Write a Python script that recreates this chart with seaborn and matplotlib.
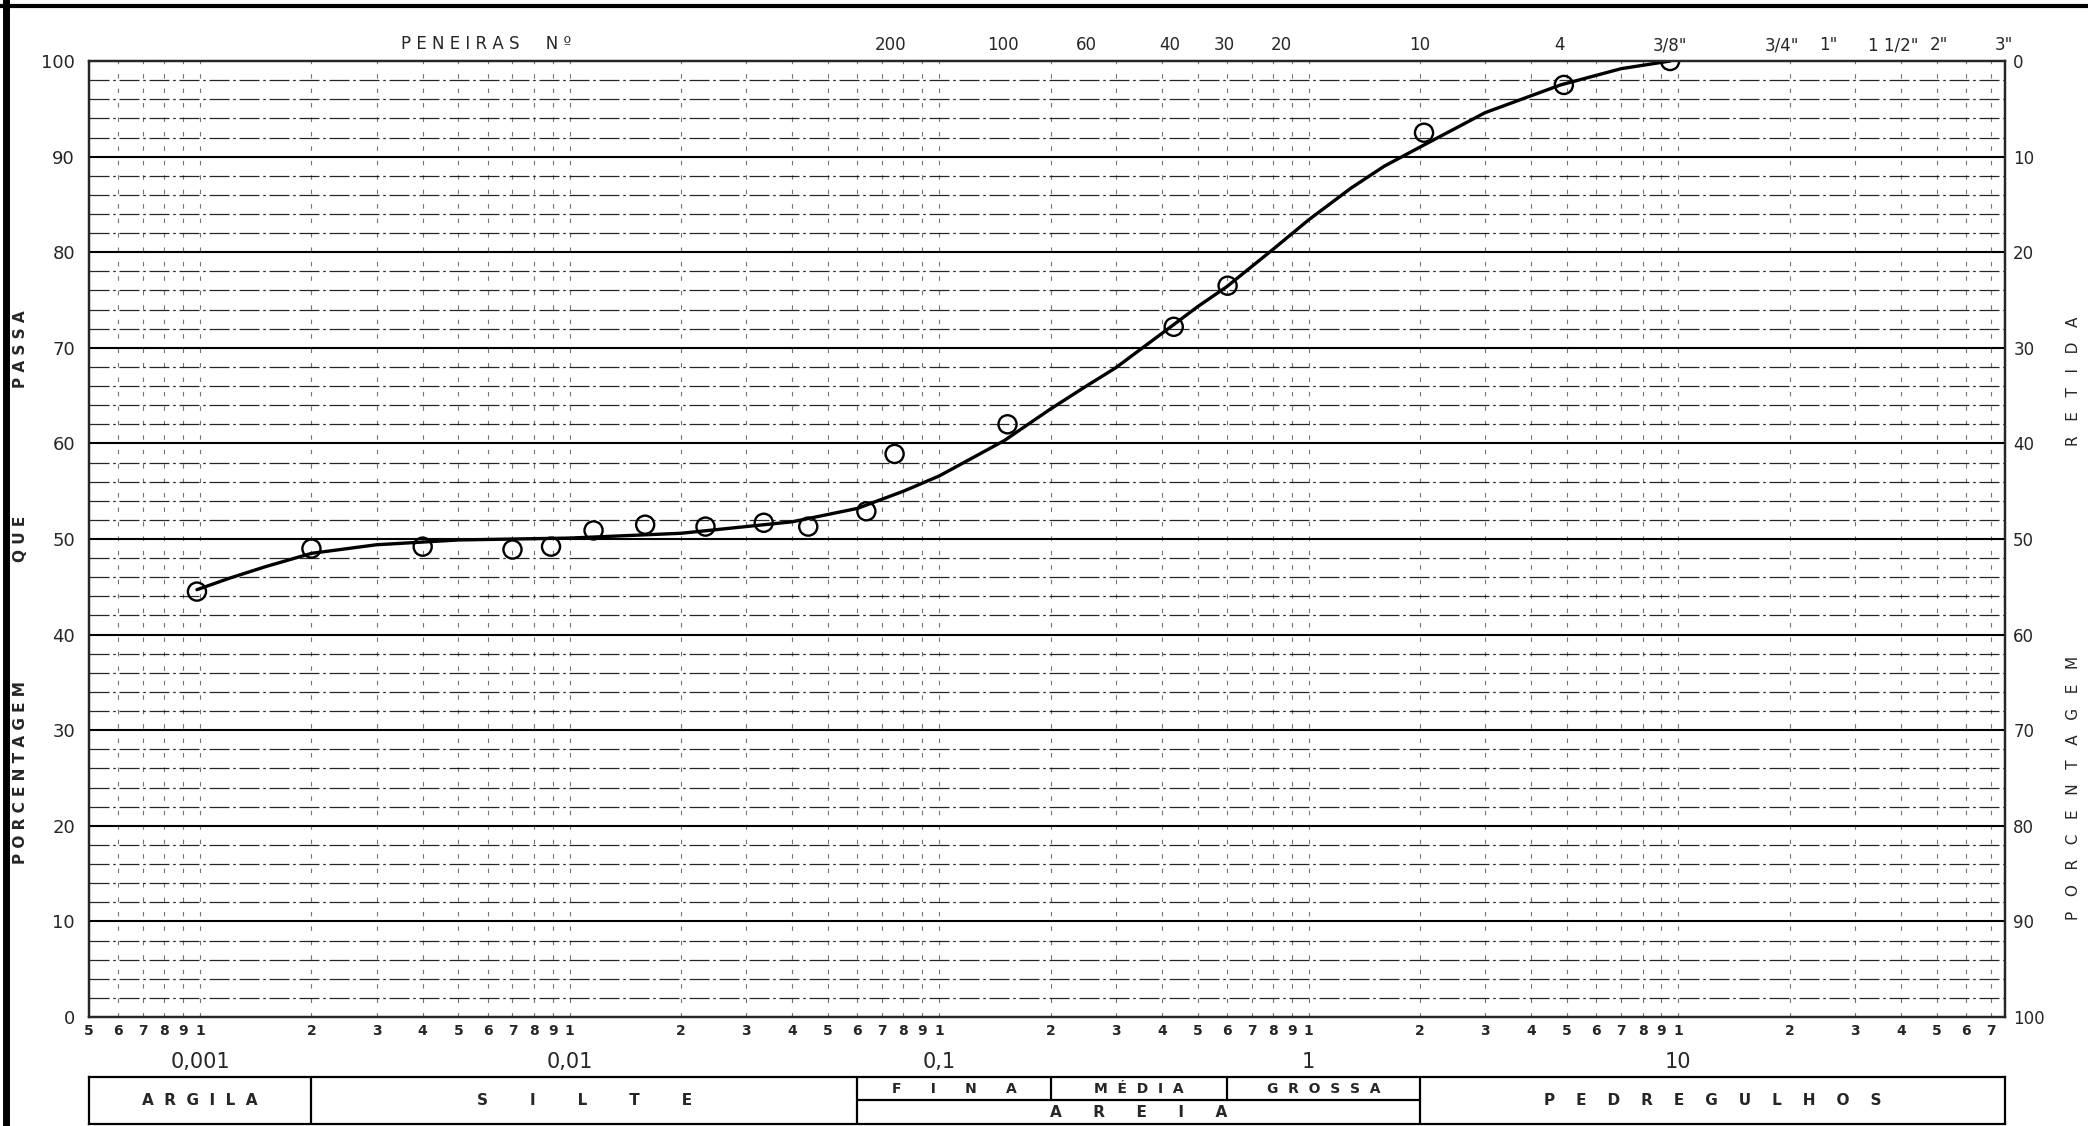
import matplotlib
matplotlib.use("Agg")
import matplotlib.pyplot as plt
import matplotlib.transforms as mtransforms
from matplotlib.lines import Line2D
from matplotlib.ticker import NullLocator
import seaborn as sns
import pandas as pd

sns.set_theme(style="white")
plt.rcParams["font.family"] = ["DejaVu Sans"]

# pontos do ensaio (diametro em mm, % que passa)
diametros = [0.00098, 0.0020, 0.0040, 0.0070, 0.0089, 0.0116, 0.0160, 0.0233, 0.0335,
             0.0442, 0.0635, 0.0757, 0.153, 0.431, 0.603, 2.05, 4.9, 9.5]
passa = [44.5, 49.0, 49.2, 48.9, 49.2, 50.9, 51.5, 51.3, 51.7,
         51.3, 52.9, 58.9, 62.0, 72.2, 76.5, 92.5, 97.5, 100.0]

# curva desenhada a mao
curva_d = [0.00098, 0.0012, 0.0015, 0.002, 0.003, 0.005, 0.01, 0.02, 0.04, 0.06, 0.08,
           0.1, 0.15, 0.2, 0.25, 0.3, 0.43, 0.5, 0.6, 0.8, 1.0, 1.3, 1.6, 2.0,
           3.0, 4.8, 7.0, 9.5]
curva_p = [44.7, 45.9, 47.1, 48.5, 49.4, 49.9, 50.1, 50.6, 51.8, 53.2, 55.0,
           56.6, 60.3, 63.6, 66.0, 67.9, 72.4, 74.3, 76.4, 80.3, 83.4, 86.7, 89.0, 91.0,
           94.6, 97.5, 99.2, 100.0]

peneiras_nome = ["200", "100", "60", "40", "30", "20", "10", "4",
                 '3/8"', '3/4"', '1"', '1 1/2"', '2"', '3"']
peneiras_mm = [0.074, 0.149, 0.25, 0.42, 0.59, 0.84, 2.0, 4.76,
               9.5, 19.1, 25.4, 38.1, 50.8, 76.2]

decadas = [0.001, 0.01, 0.1, 1, 10]
decadas_nome = ["0,001", "0,01", "0,1", "1", "10"]

# classificacao (limites em mm)
limites = [0.002, 0.06, 2.0]
limites_areia = [0.2, 0.6]
classes = ["ARGILA", "SILTE", "PEDREGULHOS"]
classes_areia = ["FINA", "MÉDIA", "GROSSA"]

xmin, xmax = 0.0005, 76.5

fig = plt.figure(figsize=(20.88, 11.26), dpi=100)
ax = fig.add_axes([0.0426, 0.0968, 0.9176, 0.849])
ax.set_xscale("log")
ax.set_xlim(xmin, xmax)
ax.set_ylim(0, 100)

# grade do papel
for k in range(-4, 2):
    for m in range(1, 10):
        d = m * 10.0 ** k
        if xmin < d < xmax:
            ax.axvline(d, color="black", lw=0.8, ls=(0, (4, 9)), alpha=0.55, zorder=1)
for v in range(2, 100, 2):
    if v % 10 == 0:
        ax.axhline(v, color="black", lw=1.5, zorder=1)
    else:
        ax.axhline(v, color="black", lw=0.9, ls=(0, (16, 3, 2, 3)), alpha=0.85, zorder=1)

tabela_pts = pd.DataFrame({"diametro": diametros, "passa": passa})
tabela_curva = pd.DataFrame({"diametro": curva_d, "passa": curva_p})

sns.lineplot(data=tabela_curva, x="diametro", y="passa", color="black", lw=2.4,
             sort=False, estimator=None, ax=ax, zorder=4)
sns.scatterplot(data=tabela_pts, x="diametro", y="passa", marker="o", s=170,
                facecolor="none", edgecolor="black", linewidth=1.7, ax=ax, zorder=5)

# eixo x inferior: digitos de cada decada
ticks_x = []
labels_x = []
for k in range(-4, 2):
    for m in range(1, 10):
        d = m * 10.0 ** k
        if xmin * 0.999 <= d <= xmax:
            ticks_x.append(d)
            labels_x.append(str(m))
ax.set_xticks(ticks_x, labels_x)
ax.xaxis.set_minor_locator(NullLocator())
ax.tick_params(axis="x", length=0, pad=5, labelsize=10)
for t in ax.get_xticklabels():
    t.set_fontweight("bold")
ax.set_xlabel("")
ax.set_ylabel("")

trans = mtransforms.blended_transform_factory(ax.transData, ax.transAxes)
for d, nome in zip(decadas, decadas_nome):
    ax.text(d, -0.047, nome, transform=trans, ha="center", va="center", fontsize=15)

ax.set_yticks(range(0, 101, 10))
ax.tick_params(axis="y", length=0, pad=10, labelsize=13)

for s in ax.spines.values():
    s.set_color("black")
    s.set_linewidth(1.6)

# eixo direito: porcentagem retida
ax2 = ax.twinx()
ax2.set_ylim(100, 0)
ax2.set_yticks(range(0, 101, 10))
ax2.tick_params(axis="y", length=0, pad=6, labelsize=12)
ax2.set_ylabel("")

# eixo superior: peneiras
ax3 = ax.twiny()
ax3.set_xscale("log")
ax3.set_xlim(xmin, xmax)
ax3.set_xticks(peneiras_mm, peneiras_nome)
ax3.xaxis.set_minor_locator(NullLocator())
ax3.tick_params(axis="x", length=0, pad=5, labelsize=12)
for s in ax3.spines.values():
    s.set_linewidth(1.6)

fig.text(0.192, 0.961, "P E N E I R A S     N º", fontsize=12, ha="left", va="center")

# titulos laterais
fig.text(0.0096, 0.314, "P O R C E N T A G E M", rotation=90, fontsize=11,
         fontweight="bold", ha="center", va="center")
fig.text(0.0096, 0.521, "Q U E", rotation=90, fontsize=11,
         fontweight="bold", ha="center", va="center")
fig.text(0.0096, 0.690, "P A S S A", rotation=90, fontsize=11,
         fontweight="bold", ha="center", va="center")
fig.text(0.993, 0.300, "P   O   R   C   E   N   T   A   G   E   M", rotation=90, fontsize=11,
         ha="center", va="center")
fig.text(0.993, 0.661, "R   E   T   I   D   A", rotation=90, fontsize=11,
         ha="center", va="center")

# tabela de classificacao
axt = fig.add_axes([0.0426, 0.0018, 0.9176, 0.0418])
axt.set_xscale("log")
axt.set_xlim(xmin, xmax)
axt.set_ylim(0, 2)
axt.set_xticks([])
axt.set_yticks([])
axt.xaxis.set_minor_locator(NullLocator())
for s in axt.spines.values():
    s.set_color("black")
    s.set_linewidth(1.6)
for d in limites:
    axt.axvline(d, color="black", lw=1.6)
for d in limites_areia:
    axt.plot([d, d], [1, 2], color="black", lw=1.6)
axt.plot([limites[1], limites[2]], [1, 1], color="black", lw=1.6)

bordas = [xmin] + limites + [xmax]
espacos = [2, 8, 4]
grupos = [0, 1, 3]
for nome, g, esp in zip(classes, grupos, espacos):
    a, b = bordas[g], bordas[g + 1]
    axt.text((a * b) ** 0.5, 1, (" " * esp).join(nome), ha="center", va="center",
             fontsize=11, fontweight="bold")
bordas_areia = [limites[1]] + limites_areia + [limites[2]]
esp_areia = [6, 2, 2]
for i, nome in enumerate(classes_areia):
    a, b = bordas_areia[i], bordas_areia[i + 1]
    axt.text((a * b) ** 0.5, 1.5, (" " * esp_areia[i]).join(nome), ha="center", va="center",
             fontsize=10, fontweight="bold")
axt.text((limites[1] * limites[2]) ** 0.5, 0.5, "      ".join("AREIA"), ha="center",
         va="center", fontsize=11, fontweight="bold")

# bordas do papel escaneado
fig.add_artist(Line2D([0.0028, 0.0028], [0, 1], color="black", lw=5))
fig.add_artist(Line2D([0, 1], [0.995, 0.995], color="black", lw=3))

fig.savefig("out.png", dpi=100)
